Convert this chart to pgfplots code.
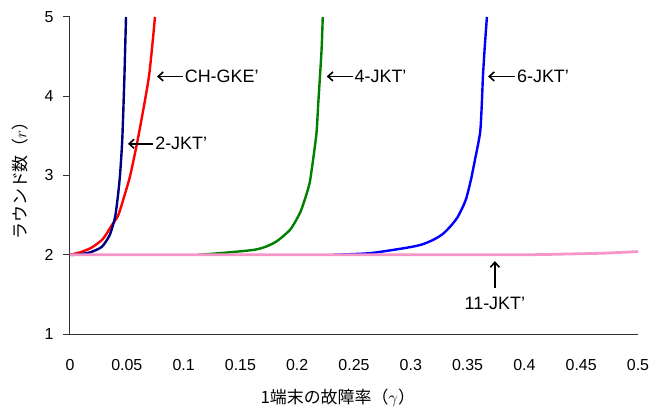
\documentclass[border=0pt]{standalone}
\usepackage{fontspec}
\setmainfont{Liberation Sans}
\newfontfamily\cjk{Noto Sans CJK JP}
\usepackage{pgfplots}
\pgfplotsset{compat=1.18}
\usetikzlibrary{arrows.meta}
\definecolor{navyc}{RGB}{0,0,128}
\definecolor{greenc}{RGB}{0,128,0}
\definecolor{bluec}{RGB}{0,0,255}
\definecolor{redc}{RGB}{255,0,0}
\definecolor{pinkc}{RGB}{246,150,200}
\begin{document}
\begin{tikzpicture}
\path[use as bounding box] (-70bp,-73bp) rectangle (583bp,334bp);
\begin{axis}[
  scale only axis, width=568bp, height=317bp,
  xmin=0, xmax=0.5, ymin=1, ymax=5,
  axis lines*=left,
  axis line style={black!80, line width=1bp},
  xtick={0,0.05,...,0.5},
  xticklabels={0,0.05,0.1,0.15,0.2,0.25,0.3,0.35,0.4,0.45,0.5},
  ytick={1,2,3,4,5},
  x tick style={draw=none},
  y tick style={black!80, line width=1bp},
  tick align=outside, major tick length=7bp,
  /pgf/number format/assume math mode=true,
  tick label style={font=\fontsize{16}{16}\selectfont},
  xticklabel style={yshift=-15bp},
  yticklabel style={xshift=-6bp},
  xlabel={{\cjk 1端末の故障率（}$\gamma${\cjk ）}},
  ylabel={{\cjk ラウンド数（}$r${\cjk ）}},
  label style={font=\fontsize{17}{17}\selectfont},
  xlabel style={at={(axis description cs:0.4715,0)}, anchor=center, yshift=-64bp},
  ylabel style={at={(axis description cs:0,0.497)}, anchor=center, rotate=0, yshift=50bp},
  every axis plot/.append style={line width=2.4bp, line join=round, smooth, tension=0.4},
  clip=true,
]
\addplot[redc] coordinates {(0,2)(0.0088,2.03)(0.019,2.09)(0.029,2.2)(0.0367,2.37)(0.0425,2.5)(0.048,2.75)(0.053,3.0)(0.060,3.48)(0.0695,4.25)(0.0748,5)};
\addplot[navyc] coordinates {(0,2)(0.005,2.0)(0.0176,2.03)(0.028,2.1)(0.035,2.25)(0.0396,2.47)(0.042,2.72)(0.044,3.0)(0.046,3.45)(0.0478,4.2)(0.0493,5)};
\addplot[greenc] coordinates {(0.113,2.0)(0.132,2.02)(0.161,2.06)(0.172,2.1)(0.182,2.17)(0.194,2.32)(0.2025,2.53)(0.207,2.71)(0.211,2.91)(0.214,3.2)(0.217,3.54)(0.2185,3.9)(0.220,4.24)(0.2215,4.6)(0.2225,5)};
\addplot[bluec] coordinates {(0.2315,2.0)(0.264,2.02)(0.297,2.09)(0.31,2.13)(0.32,2.19)(0.328,2.26)(0.335,2.36)(0.341,2.47)(0.346,2.61)(0.349,2.72)(0.353,2.95)(0.3565,3.2)(0.361,3.54)(0.3625,3.9)(0.3635,4.25)(0.365,4.6)(0.367,5)};
\addplot[pinkc, line width=2.8bp] coordinates {(0,2)(0.1,2.0)(0.2,2.0)(0.3,2.0)(0.4,2.0)(0.44,2.01)(0.47,2.02)(0.5,2.04)};
\begin{scope}[line width=1.6bp, font=\fontsize{18}{18}\selectfont]
\draw[{Straight Barb[length=5bp,width=9bp]}-] (axis cs:0.0766,4.25) -- (axis cs:0.0995,4.25) node[right, inner sep=1bp]{CH-GKE\char"27};
\draw[{Straight Barb[length=5bp,width=9bp]}-] (axis cs:0.051,3.40) -- (axis cs:0.0735,3.40) node[right, inner sep=1bp]{2-JKT\char"27};
\draw[{Straight Barb[length=5bp,width=9bp]}-] (axis cs:0.226,4.25) -- (axis cs:0.249,4.25) node[right, inner sep=1bp]{4-JKT\char"27};
\draw[{Straight Barb[length=5bp,width=9bp]}-] (axis cs:0.368,4.25) -- (axis cs:0.392,4.25) node[right, inner sep=1bp]{6-JKT\char"27};
\draw[{Straight Barb[length=5bp,width=9bp]}-] (axis cs:0.374,1.92) -- (axis cs:0.374,1.58);
\node at (axis cs:0.374,1.39) {11-JKT\char"27};
\end{scope}
\end{axis}
\end{tikzpicture}
\end{document}
